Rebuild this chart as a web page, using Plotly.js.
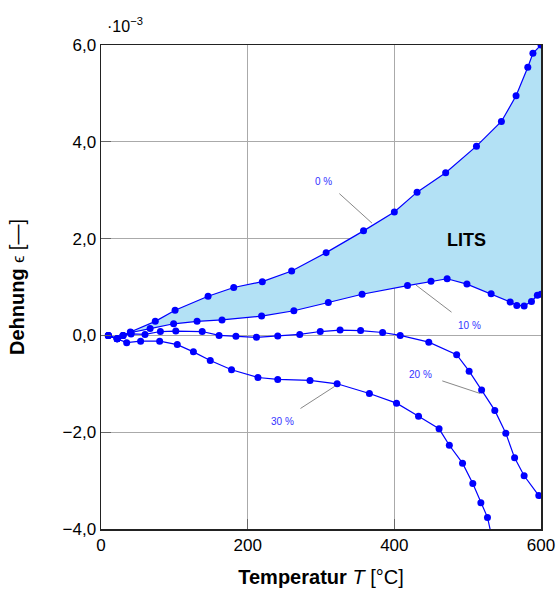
<!DOCTYPE html>
<html><head><meta charset="utf-8">
<script src="https://cdn.plot.ly/plotly-3.0.1.min.js"></script>
<style>html,body{margin:0;padding:0;background:#fff}#plot{width:557px;height:595px}</style>
</head><body><div id="plot"></div>
<script>
// Temperature T [°C] and strain epsilon [1e-3] per load level
const t0 = [10, 22, 30, 40, 74, 101, 146, 181, 220, 260, 307, 358, 400, 431, 470, 512, 546, 566, 582, 589, 600];
const e0 = [0, -0.07, 0.0, 0.07, 0.29, 0.52, 0.81, 0.99, 1.11, 1.33, 1.71, 2.16, 2.55, 2.96, 3.36, 3.91, 4.42, 4.95, 5.54, 5.83, 6.0];

const t10 = [10, 22, 30, 41, 67, 99, 131, 165, 219, 263, 310, 356, 418, 450, 472, 499, 532, 558, 567, 577, 587, 595, 600];
const e10 = [0, -0.07, 0.0, 0.06, 0.14, 0.24, 0.29, 0.32, 0.40, 0.51, 0.68, 0.85, 1.03, 1.12, 1.17, 1.06, 0.86, 0.69, 0.62, 0.61, 0.70, 0.83, 0.85];

const t20 = [10, 22, 30, 41, 60, 81, 102, 138, 161, 184, 212, 241, 271, 299, 326, 354, 384, 408, 447, 485, 502, 519, 537, 552, 564, 577, 597];
const e20 = [0, -0.07, 0.0, 0.03, 0.02, 0.08, 0.09, 0.08, 0.0, -0.02, -0.04, -0.01, 0.02, 0.08, 0.11, 0.10, 0.06, 0.0, -0.14, -0.40, -0.74, -1.13, -1.55, -2.02, -2.53, -2.90, -3.31];

const t30 = [10, 22, 35, 54, 80, 104, 126, 149, 178, 214, 241, 285, 322, 366, 403, 433, 461, 475, 493, 507, 518, 527, 532];
const e30 = [0, -0.07, -0.15, -0.12, -0.12, -0.19, -0.34, -0.52, -0.71, -0.87, -0.91, -0.93, -1.00, -1.20, -1.40, -1.67, -1.93, -2.27, -2.64, -3.06, -3.46, -3.76, -4.10];

const yTickVals = [-4, -2, 0, 2, 4, 6];
const yTickText = ['\u22124,0', '\u22122,0', '0,0', '2,0', '4,0', '6,0'];
const xTickVals = [0, 200, 400, 600];

const labels = ['0 %', '10 %', '20 %', '30 %'];
const labelPos = [[304, 3.19], [502, 0.195], [436, -0.80], [248, -1.77]];
const leaderLines = [[325, 2.93, 369.5, 2.32], [429.5, 1.04, 478, 0.48], [465.4, -0.94, 517, -1.20], [272, -1.51, 319, -1.05]];

const blue = '#0000ff';
const line = {color: blue, width: 1.2};
const marker = {color: blue, size: 7};

const traces = [
  {x: t10, y: e10, mode: 'lines+markers', line, marker, showlegend: false},
  {x: t0, y: e0, mode: 'lines+markers', line, marker, fill: 'tonexty', fillcolor: '#b3e1f5', showlegend: false},
  {x: t20, y: e20, mode: 'lines+markers', line, marker, showlegend: false},
  {x: t30, y: e30, mode: 'lines+markers', line, marker, showlegend: false}
];

const fontFam = 'Liberation Sans, Arial, sans-serif';
const annotations = labels.map((s, i) => ({
  x: labelPos[i][0], y: labelPos[i][1], xref: 'x', yref: 'y', text: s, showarrow: false,
  font: {family: fontFam, size: 10, color: '#3333ff'}
}));
annotations.push({x: 499, y: 1.97, xref: 'x', yref: 'y', text: '<b>LITS</b>', showarrow: false,
  font: {family: fontFam, size: 18, color: '#000'}});
annotations.push({x: 0, y: 1, xref: 'paper', yref: 'paper', xanchor: 'left', yanchor: 'bottom', xshift: 4, yshift: 8,
  text: '\u00b710<sup>\u22123</sup>', showarrow: false,
  font: {family: fontFam, size: 16, color: '#000'}});

const shapes = leaderLines.map(l => ({type: 'line', xref: 'x', yref: 'y', x0: l[0], y0: l[1], x1: l[2], y1: l[3],
  line: {color: '#888', width: 1}}));

const layout = {
  width: 557, height: 595,
  margin: {l: 101, r: 16, t: 45, b: 66},
  paper_bgcolor: '#fff', plot_bgcolor: '#fff',
  font: {family: fontFam, size: 17, color: '#000'},
  xaxis: {
    range: [0, 600], tickvals: xTickVals, ticktext: xTickVals.map(String),
    showgrid: true, gridcolor: '#aaa', gridwidth: 1, zeroline: false,
    showline: true, linecolor: '#222', linewidth: 1.5, mirror: true,
    ticks: 'inside', ticklen: 10, tickcolor: '#666',
    title: {text: '<b>Temperatur</b> <i>T</i> [\u00b0C]', font: {size: 20}, standoff: 16}
  },
  yaxis: {
    range: [-4, 6], tickvals: yTickVals, ticktext: yTickText,
    showgrid: true, gridcolor: '#aaa', gridwidth: 1, zeroline: false,
    showline: true, linecolor: '#222', linewidth: 1.5, mirror: true,
    ticks: 'inside', ticklen: 10, tickcolor: '#666',
    title: {text: '<b>Dehnung</b> <span style="font-size:16px">\u03f5</span> [\u2014]', font: {size: 20}, standoff: 32}
  },
  annotations, shapes
};

Plotly.newPlot('plot', traces, layout, {staticPlot: true});
</script></body></html>
